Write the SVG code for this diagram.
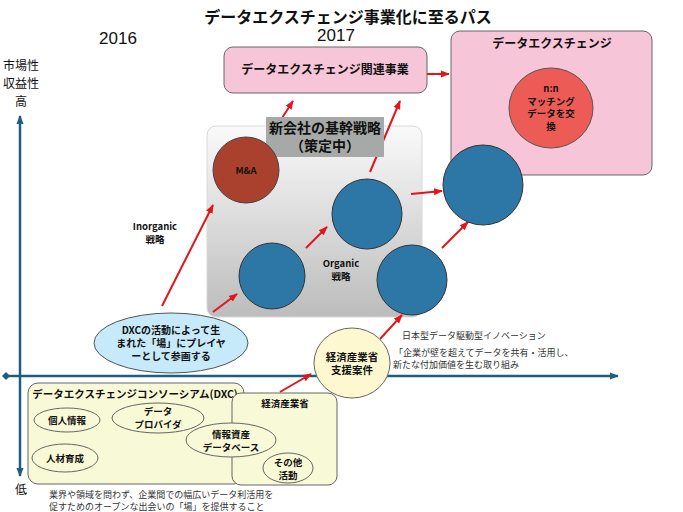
<svg xmlns="http://www.w3.org/2000/svg" width="683" height="512" viewBox="0 0 683 512">
<defs>
<style>
text{font-family:"Noto Sans CJK JP","Liberation Sans",sans-serif;fill:#111;dominant-baseline:central;text-anchor:middle}
.b{font-weight:bold}
.s10{font-size:9.5px}
.conn{stroke:#e3141b;stroke-width:2;fill:none;marker-end:url(#ra)}
.axis{stroke:#1d5f80;stroke-width:2.5;fill:none}
.blue{fill:#2c77a6;stroke:#333;stroke-width:1}
.yel{fill:#f8f9d6;stroke:#666;stroke-width:1}
.note{font-size:9px;fill:#333;text-anchor:start}
</style>
<marker id="ra" viewBox="0 0 10 10" refX="9" refY="5" markerWidth="9" markerHeight="9" markerUnits="userSpaceOnUse" orient="auto">
<path d="M0,1 L10,5 L0,9 z" fill="#e3141b"/>
</marker>
<marker id="aa" viewBox="0 0 10 10" refX="9" refY="5" markerWidth="9" markerHeight="9" markerUnits="userSpaceOnUse" orient="auto">
<path d="M0,1 L10,5 L0,9 z" fill="#1d5f80"/>
</marker>
<linearGradient id="gg" x1="0" y1="0" x2="0" y2="1">
<stop offset="0" stop-color="#fafafa"/>
<stop offset="1" stop-color="#bcbcbc"/>
</linearGradient>
</defs>
<rect width="683" height="512" fill="#fff"/>

<g id="labels">
<text x="348" y="16" class="b" font-size="16">データエクスチェンジ事業化に至るパス</text>
<text x="118" y="38" font-size="17" style="font-family:'Liberation Sans',sans-serif">2016</text>
<text x="336" y="35" font-size="17" style="font-family:'Liberation Sans',sans-serif">2017</text>
<text x="21" y="64" font-size="12">市場性</text>
<text x="21" y="82" font-size="12">収益性</text>
<text x="21" y="100" font-size="12">高</text>
<text x="21" y="488" font-size="12">低</text>
</g>

<g id="axes">
<line class="axis" x1="20" y1="120" x2="20" y2="116" marker-end="url(#aa)"/>
<line class="axis" x1="20" y1="120" x2="20" y2="476" marker-end="url(#aa)"/>
<line class="axis" x1="6" y1="376" x2="618" y2="376" marker-end="url(#aa)"/>
<path d="M2,376 L6,372 L10,376 L6,380 z" fill="#1d5f80"/>
</g>

<g id="strategy-area">
<rect x="207" y="126" width="215" height="191" rx="9" fill="url(#gg)" stroke="#d8d8d8"/>
</g>

<g id="connectors">
<line class="conn" x1="282" y1="118" x2="293" y2="101"/>
<line class="conn" x1="370" y1="172" x2="400" y2="101"/>
<line class="conn" x1="427" y1="74" x2="449" y2="74"/>
<line class="conn" x1="162" y1="306" x2="213" y2="205"/>
<line class="conn" x1="213" y1="312" x2="237" y2="294"/>
<line class="conn" x1="306" y1="248" x2="327" y2="227"/>
<line class="conn" x1="411" y1="194" x2="442" y2="191"/>
<line class="conn" x1="442" y1="248" x2="468" y2="222"/>
<line class="conn" x1="380" y1="339" x2="402" y2="315"/>
<line class="conn" x1="280" y1="392" x2="311" y2="374"/>
</g>

<g id="node-related">
<rect x="224" y="47" width="203" height="46" rx="9" fill="#f6c5d7" stroke="#666"/>
<text x="325" y="68" class="b" font-size="12">データエクスチェンジ関連事業</text>
</g>

<g id="node-dx">
<rect x="451" y="31" width="201" height="144" rx="9" fill="#f6c5d7" stroke="#666"/>
<text x="552" y="42" class="b" font-size="12">データエクスチェンジ</text>
</g>

<g id="node-nn">
<ellipse cx="551" cy="108" rx="42" ry="40" fill="#ec5b55" stroke="#555"/>
<text x="551" y="88" class="b s10">n:n</text>
<text x="551" y="100.5" class="b s10">マッチング</text>
<text x="551" y="113" class="b s10">データを交</text>
<text x="551" y="125.5" class="b s10">換</text>
</g>

<g id="node-label">
<rect x="266" y="117" width="118" height="40" fill="#a6a9a7"/>
<text x="325" y="127" class="b" font-size="14">新会社の基幹戦略</text>
<text x="325" y="145" class="b" font-size="14">（策定中）</text>
</g>

<g id="node-ma">
<circle cx="246" cy="170" r="33" fill="#a9412e" stroke="#444"/>
<text x="246" y="170" class="b s10">M&amp;A</text>
</g>

<g id="node-b1"><circle class="blue" cx="272" cy="276" r="33"/></g>
<g id="node-b2"><circle class="blue" cx="367" cy="214" r="35"/></g>
<g id="node-b3"><circle class="blue" cx="412" cy="280" r="35"/></g>
<g id="node-b4"><circle class="blue" cx="483" cy="185" r="40"/></g>

<g id="label-organic">
<text x="341" y="263" class="b s10">Organic</text>
<text x="341" y="276" class="b s10">戦略</text>
</g>
<g id="label-inorganic">
<text x="155" y="226" class="b s10">Inorganic</text>
<text x="155" y="239" class="b s10">戦略</text>
</g>

<g id="node-dxc-act">
<ellipse cx="171" cy="343" rx="77" ry="30" fill="#c6eaf9" stroke="#555"/>
<text x="171" y="329" class="b" font-size="10">DXCの活動によって生</text>
<text x="171" y="342" class="b" font-size="10">まれた「場」にプレイヤ</text>
<text x="171" y="355" class="b" font-size="10">ーとして参画する</text>
</g>

<g id="node-meti-case">
<ellipse cx="352" cy="363" rx="38" ry="35" fill="#fdf8d0" stroke="#666"/>
<text x="352" y="356" class="b" font-size="10.5">経済産業省</text>
<text x="352" y="369" class="b" font-size="10.5">支援案件</text>
</g>

<g id="note-innovation">
<text x="402" y="335" class="note" font-size="9.5">日本型データ駆動型イノベーション</text>
<text x="394" y="352" class="note">「企業が壁を超えてデータを共有・活用し、</text>
<text x="393" y="364" class="note">新たな付加価値を生む取り組み</text>
</g>

<g id="node-dxc">
<rect x="28" y="383" width="216" height="101" rx="10" class="yel"/>
<text x="135" y="393" class="b" font-size="10.5">データエクスチェンジコンソーシアム(DXC)</text>
</g>

<g id="node-meti">
<rect x="232" y="393" width="105" height="92" rx="9" class="yel"/>
<text x="285" y="403" class="b s10">経済産業省</text>
</g>

<g id="node-personal">
<ellipse cx="67" cy="420" rx="33" ry="12" class="yel"/>
<text x="67" y="420" class="b s10">個人情報</text>
</g>
<g id="node-hr">
<ellipse cx="65" cy="458" rx="33" ry="14" class="yel"/>
<text x="65" y="458" class="b s10">人材育成</text>
</g>
<g id="node-provider">
<ellipse cx="158" cy="418" rx="46" ry="15" class="yel"/>
<text x="158" y="411" class="b s10">データ</text>
<text x="158" y="424" class="b s10">プロバイダ</text>
</g>
<g id="node-db">
<ellipse cx="231" cy="440" rx="45" ry="17" class="yel"/>
<text x="231" y="434" class="b s10">情報資産</text>
<text x="231" y="447" class="b s10">データベース</text>
</g>
<g id="node-other">
<ellipse cx="288" cy="468" rx="25" ry="15" class="yel"/>
<text x="288" y="462" class="b s10">その他</text>
<text x="288" y="475" class="b s10">活動</text>
</g>

<g id="note-dxc">
<text x="49" y="494" class="note">業界や領域を問わず、企業間での幅広いデータ利活用を</text>
<text x="49" y="506" class="note">促すためのオープンな出会いの「場」を提供すること</text>
</g>
</svg>
